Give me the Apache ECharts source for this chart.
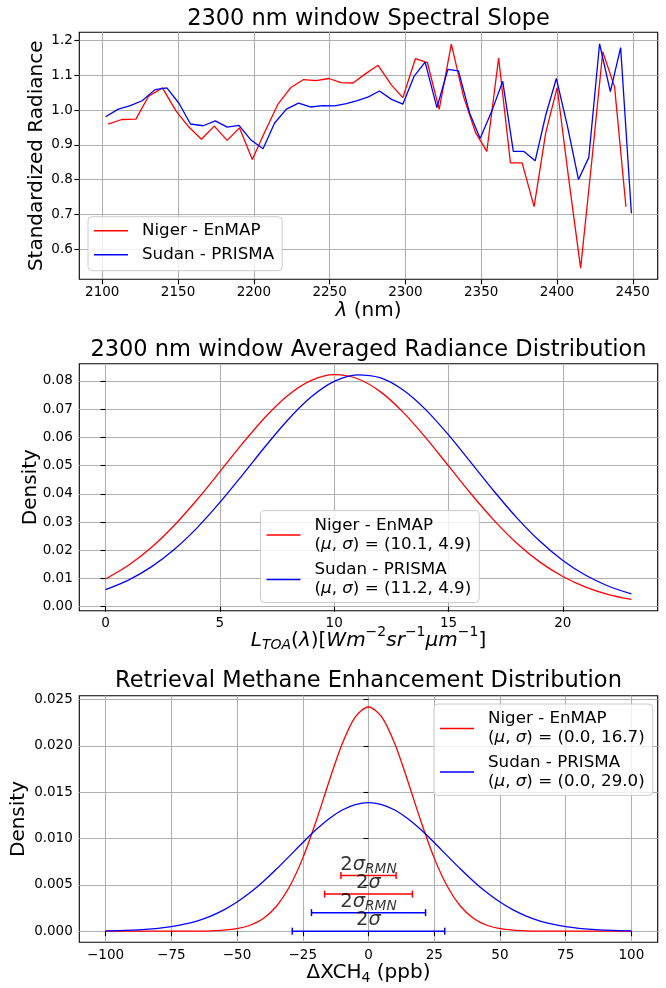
<!DOCTYPE html>
<html><head><meta charset="utf-8">
<script src="https://cdn.jsdelivr.net/npm/echarts@6/dist/echarts.min.js"></script>
<style>html,body{margin:0;padding:0;background:#fff}#c{width:666px;height:988px}</style>
</head><body><div id="c"></div>
<script>
// ---------- Panel 1: spectral slope ----------
const p1Niger = [[2103.9,0.960],[2112.9,0.973],[2122.2,0.974],[2130.5,1.040],[2139.7,1.064],[2148.6,0.998],[2157.0,0.952],[2165.4,0.916],[2173.9,0.954],[2182.4,0.913],[2190.5,0.949],[2199.0,0.858],[2207.5,0.940],[2215.9,1.017],[2224.4,1.065],[2232.9,1.088],[2241.0,1.085],[2249.5,1.091],[2257.6,1.079],[2265.4,1.078],[2273.8,1.105],[2282.0,1.129],[2290.8,1.072],[2298.3,1.036],[2306.6,1.148],[2314.5,1.137],[2322.3,1.002],[2330.3,1.190],[2338.4,1.038],[2346.3,0.935],[2353.7,0.881],[2361.5,1.150],[2369.3,0.848],[2377.0,0.848],[2384.9,0.722],[2392.6,0.935],[2400.1,1.065],[2407.8,0.800],[2415.6,0.545],[2423.0,0.855],[2430.2,1.168],[2438.0,1.067],[2445.5,0.722]];
const p1Sudan = [[2102.2,0.981],[2110.6,1.003],[2118.5,1.013],[2126.3,1.027],[2134.8,1.059],[2142.6,1.064],[2150.7,1.019],[2158.2,0.960],[2166.6,0.955],[2174.6,0.969],[2182.4,0.951],[2190.2,0.956],[2198.3,0.913],[2206.1,0.889],[2213.7,0.963],[2221.5,1.003],[2229.5,1.020],[2237.3,1.009],[2245.4,1.013],[2253.2,1.012],[2261.0,1.019],[2268.3,1.027],[2275.6,1.038],[2282.9,1.055],[2290.8,1.031],[2298.3,1.017],[2305.8,1.098],[2313.0,1.138],[2320.8,1.007],[2328.0,1.117],[2335.0,1.113],[2342.4,0.991],[2349.3,0.918],[2356.8,0.995],[2364.2,1.083],[2371.2,0.881],[2378.2,0.881],[2385.6,0.854],[2392.6,0.986],[2399.6,1.091],[2407.0,0.952],[2414.2,0.800],[2421.0,0.864],[2428.1,1.191],[2435.2,1.053],[2442.0,1.180],[2449.1,0.703]];
const p1XTicks = [2100,2150,2200,2250,2300,2350,2400,2450];
const p1YTicks = [0.6,0.7,0.8,0.9,1.0,1.1,1.2];

// ---------- Panel 2: averaged radiance distribution ----------
const p2X = [0,1,2,3,4,5,6,7,8,9,10,11,12,13,14,15,16,17,18,19,20,21,22,23];
const p2Niger = [0.00983,0.01467,0.02098,0.02879,0.03790,0.04784,0.05795,0.06732,0.07502,0.08018,0.08221,0.08086,0.07629,0.06902,0.05991,0.04987,0.03983,0.03051,0.02241,0.01580,0.01069,0.00693,0.00430,0.00258];
const p2Sudan = [0.00603,0.00942,0.01411,0.02027,0.02794,0.03694,0.04682,0.05695,0.06644,0.07435,0.07981,0.08216,0.08114,0.07687,0.06984,0.06087,0.05089,0.04081,0.03140,0.02317,0.01639,0.01113,0.00724,0.00452];
const p2XTicks = [0,5,10,15,20];
const p2YTicks = [0,0.01,0.02,0.03,0.04,0.05,0.06,0.07,0.08];

// ---------- Panel 3: methane enhancement distribution ----------
const p3X = [-100,-95,-90,-85,-80,-75,-70,-65,-60,-55,-50,-45,-40,-35,-30,-25,-20,-15,-10,-5,0,5,10,15,20,25,30,35,40,45,50,55,60,65,70,75,80,85,90,95,100];
const p3Niger = [0,0,0,0,0,0,0,0.00001,0.00004,0.00011,0.00027,0.00064,0.00137,0.00269,0.00482,0.00788,0.01180,0.01615,0.02021,0.02311,0.02418,0.02311,0.02021,0.01615,0.01180,0.00788,0.00482,0.00269,0.00137,0.00064,0.00027,0.00011,0.00004,0.00001,0,0,0,0,0,0,0];
const p3Sudan = [0.00004,0.00006,0.00011,0.00019,0.00031,0.00049,0.00075,0.00112,0.00163,0.00230,0.00314,0.00416,0.00536,0.00670,0.00812,0.00956,0.01093,0.01213,0.01307,0.01366,0.01387,0.01366,0.01307,0.01213,0.01093,0.00956,0.00812,0.00670,0.00536,0.00416,0.00314,0.00230,0.00163,0.00112,0.00075,0.00049,0.00031,0.00019,0.00011,0.00006,0.00004];
const p3XTicks = [-100,-75,-50,-25,0,25,50,75,100];
const p3YTicks = [0,0.005,0.010,0.015,0.020,0.025];
const errHalfWidth = [10.5,16.7,21.7,29.0];
const errY = [0.006,0.004,0.002,0.0];
const errLabels = ['{a|2}{g|σ}{s|RMN}','{a|2}{g|σ}','{a|2}{g|σ}{s|RMN}','{a|2}{g|σ}'];
const errSeriesColor = ['#ff0000','#ff0000','#0000ff','#0000ff'];

const names = {
  n1:'Niger - EnMAP', s1:'Sudan - PRISMA',
  n2:'Niger - EnMAP\n(μ, σ) = (10.1, 4.9)', s2:'Sudan - PRISMA\n(μ, σ) = (11.2, 4.9)',
  n3:'Niger - EnMAP\n(μ, σ) = (0.0, 16.7)', s3:'Sudan - PRISMA\n(μ, σ) = (0.0, 29.0)'
};

const FONT = 'DejaVu Sans';
const RED = '#ff0000', BLUE = '#0000ff';
const GRIDC = '#b0b0b0';
const TICK = 13.5, LAB = 20, LEG = 16.7, TTL = 22.5;

function xAxisCfg(gi, min, max, ticks, name, gap, fmt, rich) {
  return {
    type:'value', gridIndex:gi, min:min, max:max,
    axisLine:{show:false},
    axisTick:{show:true, customValues:ticks, length:5, lineStyle:{color:'#000', width:1.1}},
    axisLabel:{customValues:ticks, margin:6, fontSize:TICK, fontFamily:FONT, color:'#000', formatter:fmt},
    splitLine:{show:true, lineStyle:{color:GRIDC, width:1.1}},
    name:name, nameLocation:'middle', nameGap:gap, nameMoveOverlap:false,
    nameTextStyle:{fontSize:LAB, fontFamily:FONT, color:'#000', rich:rich}
  };
}
function yAxisCfg(gi, min, max, ticks, name, gap, fmt) {
  return {
    type:'value', gridIndex:gi, min:min, max:max,
    axisLine:{show:false},
    axisTick:{show:true, customValues:ticks, length:5, lineStyle:{color:'#000', width:1.1}},
    axisLabel:{customValues:ticks, margin:6.5, fontSize:TICK, fontFamily:FONT, color:'#000', formatter:fmt},
    splitLine:{show:true, lineStyle:{color:GRIDC, width:1.1}},
    name:name, nameLocation:'middle', nameGap:gap, nameRotate:90, nameMoveOverlap:false,
    nameTextStyle:{fontSize:LAB, fontFamily:FONT, color:'#000'}
  };
}
const italic = {fontStyle:'italic', fontSize:LAB, fontFamily:FONT, color:'#000', lineHeight:20};
const normal = {fontSize:LAB, fontFamily:FONT, color:'#000', lineHeight:20};
const subS = {fontSize:14, fontFamily:FONT, color:'#000', lineHeight:14, padding:[10,0,0,0]};
const subI = Object.assign({}, subS, {fontStyle:'italic'});
const supS = {fontSize:14, fontFamily:FONT, color:'#000', lineHeight:14, padding:[0,0,16,0]};

function legendCfg(left, top, data, lh, gap, pad) {
  return {
    orient:'vertical', left:left, top:top, data:data, selectedMode:false,
    icon:'rect', itemWidth:34, itemHeight:1.5, itemGap:gap,
    padding:pad, backgroundColor:'rgba(255,255,255,0.8)', borderColor:'#cccccc', borderWidth:1, borderRadius:4,
    formatter: n => n.replace('μ','{i|μ}').replace('σ','{i|σ}'),
    textStyle:{fontSize:LEG, fontFamily:FONT, color:'#000', lineHeight:lh, padding:[0,0,0,9],
      rich:{i:{fontStyle:'italic', fontSize:LEG, fontFamily:FONT, color:'#000', lineHeight:lh}}}
  };
}

const fmt1 = v => v.toFixed(1);
const fmtInt = v => String(v).replace('-', '\u2212');

const series = [
  {name:names.n1, type:'line', xAxisIndex:0, yAxisIndex:0, data:p1Niger, showSymbol:false, color:RED, lineStyle:{width:1.3}},
  {name:names.s1, type:'line', xAxisIndex:0, yAxisIndex:0, data:p1Sudan, showSymbol:false, color:BLUE, lineStyle:{width:1.3}},
  {name:names.n2, type:'line', xAxisIndex:1, yAxisIndex:1, data:p2X.map((x,i)=>[x,p2Niger[i]]), showSymbol:false, smooth:0.3, color:RED, lineStyle:{width:1.3}},
  {name:names.s2, type:'line', xAxisIndex:1, yAxisIndex:1, data:p2X.map((x,i)=>[x,p2Sudan[i]]), showSymbol:false, smooth:0.3, color:BLUE, lineStyle:{width:1.3}},
  {name:names.n3, type:'line', xAxisIndex:2, yAxisIndex:2, data:p3X.map((x,i)=>[x,p3Niger[i]]), showSymbol:false, smooth:0.3, color:RED, lineStyle:{width:1.3}},
  {name:names.s3, type:'line', xAxisIndex:2, yAxisIndex:2, data:p3X.map((x,i)=>[x,p3Sudan[i]]), showSymbol:false, smooth:0.3, color:BLUE, lineStyle:{width:1.3}}
];
errY.forEach((y,i) => {
  series.push({type:'line', xAxisIndex:2, yAxisIndex:2, data:[[-errHalfWidth[i], y],[errHalfWidth[i], y]],
    symbol:'rect', symbolSize:[1.5,7], showSymbol:true, color:errSeriesColor[i], lineStyle:{width:1.5}, z:5, silent:true});
});
series.push({type:'scatter', xAxisIndex:2, yAxisIndex:2, data:errY.map(y=>[0,y]), symbolSize:0, silent:true, z:6,
  label:{show:true, position:'top', distance:-1.25, formatter:p => errLabels[p.dataIndex],
    rich:{a:{fontSize:19.5, fontFamily:FONT, color:'#000', lineHeight:24},
          g:{fontSize:19.5, fontFamily:FONT, color:'#000', lineHeight:24, fontStyle:'italic'},
          s:{fontSize:13.7, fontFamily:FONT, color:'#000', lineHeight:14, fontStyle:'italic', padding:[10,0,0,0]}}}});

const gridBase = {show:true, borderColor:'#000', borderWidth:1.1, backgroundColor:'transparent', containLabel:false, outerBoundsMode:'none'};
const option = {
  animation:false,
  backgroundColor:'#fff',
  grid:[
    Object.assign({left:79.3, top:32.3, width:578.4, height:247}, gridBase),
    Object.assign({left:79.3, top:363.7, width:578.4, height:247}, gridBase),
    Object.assign({left:79.3, top:695.7, width:578.4, height:246.6}, gridBase)
  ],
  xAxis:[
    xAxisCfg(0, 2084.85, 2466.45, p1XTicks, '{i|λ}{n| (nm)}', 21.7, v => String(v), {i:italic, n:normal}),
    xAxisCfg(1, -1.15, 24.15, p2XTicks, '{i|L}{sb|TOA}{n|(}{i|λ}{n|)[}{i|Wm}{sp|−2}{i|sr}{sp|−1}{i|μm}{sp|−1}{n|]}', 20, v => String(v), {i:italic, n:normal, sb:subI, sp:supS}),
    xAxisCfg(2, -110, 110, p3XTicks, '{n|ΔXCH}{sb|4}{n| (ppb)}', 20.7, fmtInt, {n:normal, sb:subS})
  ],
  yAxis:[
    yAxisCfg(0, 0.513, 1.224, p1YTicks, 'Standardized Radiance', 33, fmt1),
    yAxisCfg(1, -0.00142, 0.0861, p2YTicks, 'Density', 38.8, v => v.toFixed(2)),
    yAxisCfg(2, -0.0012, 0.0254, p3YTicks, 'Density', 50.3, v => v.toFixed(3))
  ],
  legend:[
    legendCfg(88, 216.7, [names.n1, names.s1], 20, 4, [4,8,6,6]),
    legendCfg(260.5, 510.6, [names.n2, names.s2], 18.8, 6.9, [5.6,8,4.2,6]),
    legendCfg(434, 704, [names.n3, names.s3], 18.8, 6, [5.7,8,4.5,6])
  ],
  graphic:[
    {type:'text', x:368.5, y:19.2, style:{text:'2300 nm window Spectral Slope', fontSize:TTL, fontFamily:FONT, fill:'#000', align:'center', verticalAlign:'middle'}},
    {type:'text', x:368.5, y:350.5, style:{text:'2300 nm window Averaged Radiance Distribution', fontSize:TTL, fontFamily:FONT, fill:'#000', align:'center', verticalAlign:'middle'}},
    {type:'text', x:368.5, y:681.5, style:{text:'Retrieval Methane Enhancement Distribution', fontSize:TTL, fontFamily:FONT, fill:'#000', align:'center', verticalAlign:'middle'}}
  ],
  series:series
};
const chart = echarts.init(document.getElementById('c'), null, {renderer:'canvas'});
chart.setOption(option);
</script></body></html>
